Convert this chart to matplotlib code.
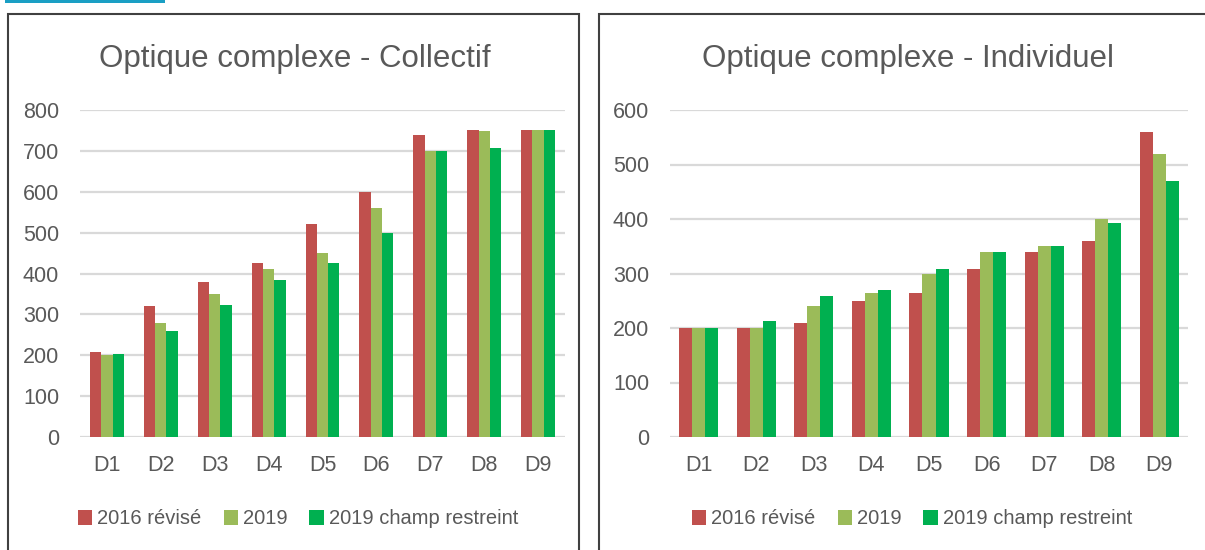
import numpy as np
import matplotlib.pyplot as plt
from matplotlib.patches import Rectangle

# deciles
categories = ['D1', 'D2', 'D3', 'D4', 'D5', 'D6', 'D7', 'D8', 'D9']
series_names = ['2016 révisé', '2019', '2019 champ restreint']

collectif_2016 = [208, 320, 380, 425, 520, 600, 740, 750, 750]
collectif_2019 = [200, 280, 350, 410, 450, 560, 700, 748, 750]
collectif_restreint = [204, 260, 322, 385, 425, 500, 700, 708, 750]

individuel_2016 = [200, 200, 210, 250, 264, 308, 340, 360, 559]
individuel_2019 = [200, 200, 240, 264, 300, 340, 350, 400, 520]
individuel_restreint = [200, 213, 258, 269, 308, 340, 350, 393, 470]

colors = ['#C0504D', '#9BBB59', '#00B050']
text_gray = '#595959'

plt.rcParams['font.family'] = ['Liberation Sans', 'DejaVu Sans']

W, H = 1205, 550
fig = plt.figure(figsize=(W / 100, H / 100), dpi=100)


def px_axes(x0, y0, x1, y1):
    # pixel box (top-left origin) -> figure fraction
    return fig.add_axes([x0 / W, 1 - y1 / H, (x1 - x0) / W, (y1 - y0) / H])


def draw_panel(box, title, tcx, series, ymax, group, leg_x):
    ax = px_axes(*box)
    n = len(series)
    bw = group / n
    x = np.arange(len(categories))
    for i, (vals, c, name) in enumerate(zip(series, colors, series_names)):
        ax.bar(x + (i - (n - 1) / 2) * bw, vals, width=bw, color=c, label=name, zorder=3)
    ax.set_xlim(-0.5, len(categories) - 0.5)
    ax.set_ylim(0, ymax)
    ax.set_yticks(np.arange(0, ymax + 1, 100))
    ax.set_xticks(x)
    ax.set_xticklabels(categories)
    ax.grid(axis='y', color='#D9D9D9', linewidth=1.6, zorder=0)
    for s in ax.spines.values():
        s.set_visible(False)
    ax.tick_params(axis='both', length=0, labelsize=15.5, colors=text_gray)
    ax.tick_params(axis='y', pad=15)
    ax.tick_params(axis='x', pad=13)
    fig.text(tcx / W, 1 - 59 / H, title, ha='center', va='center',
             fontsize=22.5, color=text_gray)
    leg = ax.legend(loc='center', bbox_to_anchor=(leg_x / W, 1 - 519 / H),
                    bbox_transform=fig.transFigure, ncol=3, frameon=False,
                    fontsize=14.5, handlelength=0.7, handleheight=0.7,
                    handletextpad=0.25, columnspacing=1.1)
    for t in leg.get_texts():
        t.set_color(text_gray)
    return ax


draw_panel((80, 110, 565, 437), 'Optique complexe - Collectif', 295,
           [collectif_2016, collectif_2019, collectif_restreint], 800, 0.63, 298)
draw_panel((670, 110, 1188, 437), 'Optique complexe - Individuel', 908,
           [individuel_2016, individuel_2019, individuel_restreint], 600, 0.68, 912)

# panel frames and the clipped header strip
fig.patches.append(Rectangle((8 / W, -0.05), 571 / W, 1.05 - 14 / H, transform=fig.transFigure,
                             fill=False, edgecolor='#404040', linewidth=1.5))
fig.patches.append(Rectangle((599 / W, -0.05), 620 / W, 1.05 - 14 / H, transform=fig.transFigure,
                             fill=False, edgecolor='#404040', linewidth=1.5))
fig.patches.append(Rectangle((5 / W, 1 - 3 / H), 160 / W, 3 / H, transform=fig.transFigure,
                             color='#1A9FC4', linewidth=0))

fig.savefig('out.png', dpi=100)
